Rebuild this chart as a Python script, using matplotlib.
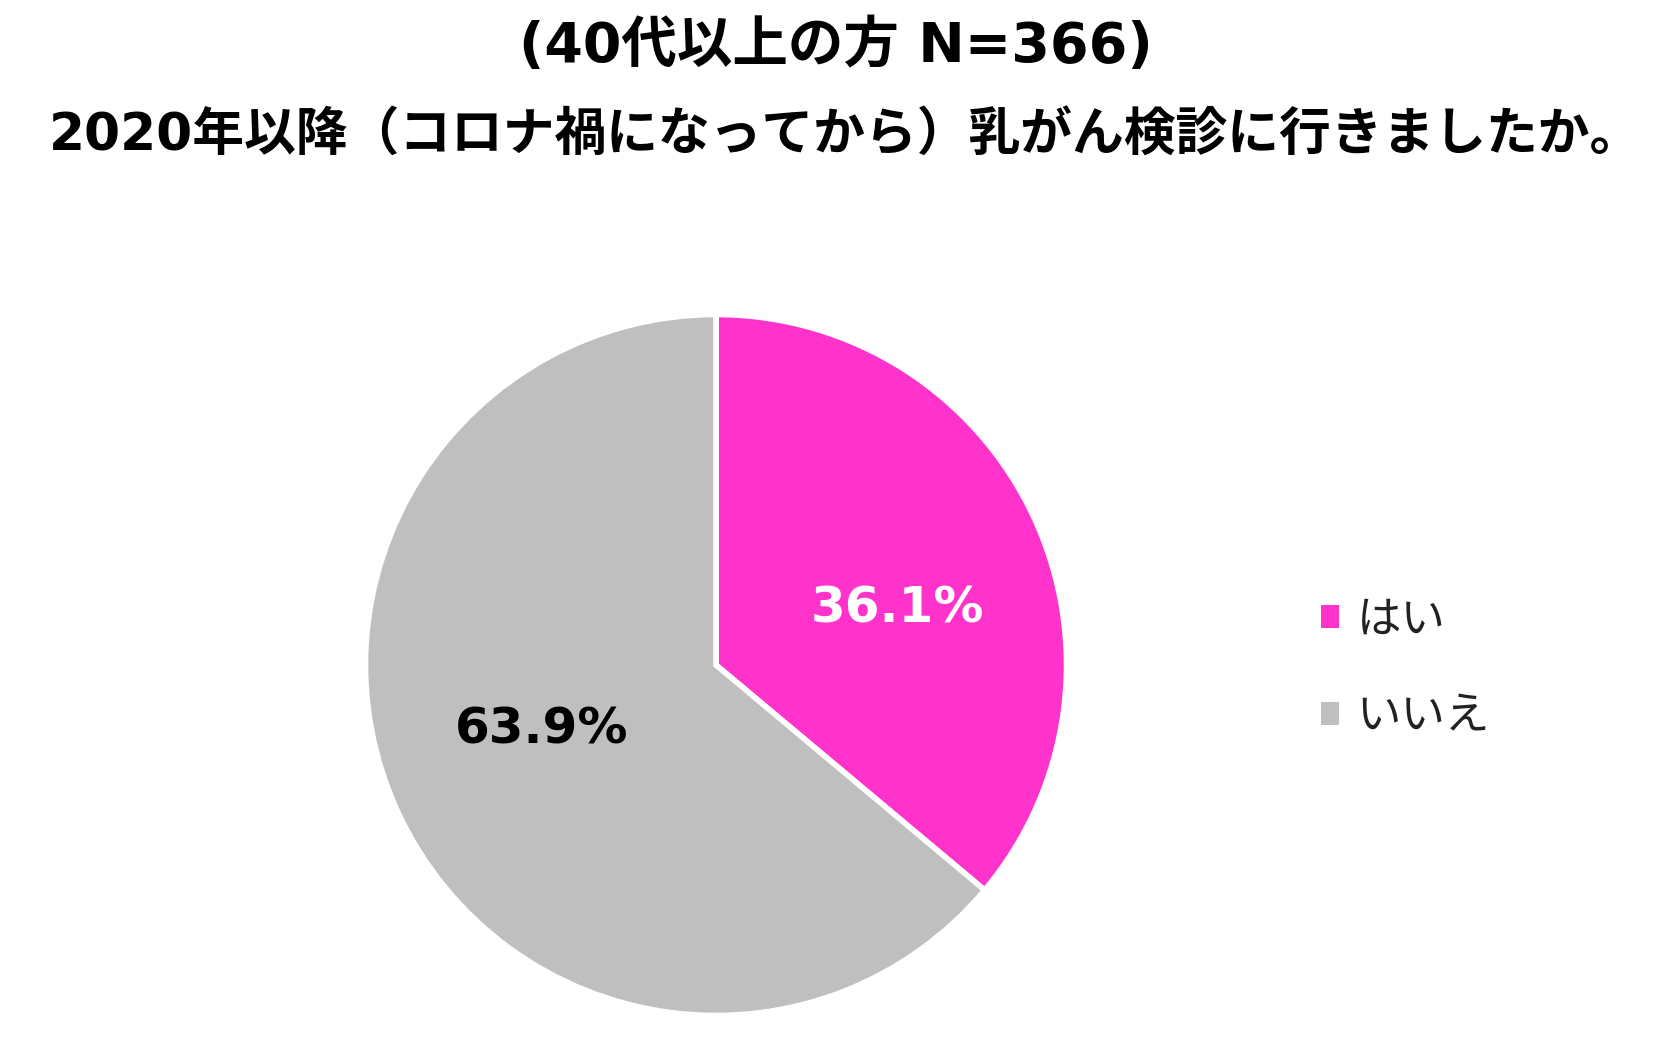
import matplotlib.pyplot as plt

plt.rcParams['font.family'] = ['Noto Sans CJK JP', 'DejaVu Sans']

# data
categories = ['はい', 'いいえ']
shares = [36.1, 63.9]
colors = ['#FF33CC', '#BFBFBF']
title_lines = ['(40代以上の方 N=366)', '2020年以降（コロナ禍になってから）乳がん検診に行きましたか。']

W, H = 1675, 1053
fig = plt.figure(figsize=(W / 100, H / 100), dpi=100)
fig.patch.set_facecolor('white')

# pie axes: centre ~ (716, 665) px, radius ~ 350 px
cx, cy, r = 716, 665, 354
ax = fig.add_axes([(cx - r) / W, (H - cy - r) / H, 2 * r / W, 2 * r / H])
wedges, texts, autotexts = ax.pie(
    shares, colors=colors, startangle=90, counterclock=False,
    autopct='%.1f%%', pctdistance=0.55, radius=1.0,
    wedgeprops=dict(edgecolor='white', linewidth=4))
ax.set_xlim(-1.01, 1.01)
ax.set_ylim(-1.01, 1.01)
ax.set_aspect('equal')
ax.axis('off')

label_colors = ['white', 'black']
for t, c in zip(autotexts, label_colors):
    t.set_color(c)
    t.set_fontsize(36)
    t.set_fontweight('bold')
    t.set_family(['DejaVu Sans'])
    x, y = t.get_position()
    t.set_position((x + 0.02 if y > 0 else x, y - 0.07 if y > 0 else y + 0.05))

# titles
title_font = ['DejaVu Sans', 'Noto Sans CJK JP']
fig.text(0.499, 1 - 47 / H, title_lines[0], ha='center', va='center',
         fontsize=40, fontweight='bold', family=title_font)
fig.text(0.505, 1 - 137 / H, title_lines[1], ha='center', va='center',
         fontsize=37.3, fontweight='bold', family=title_font)

# legend
leg = fig.legend(wedges, categories, loc='center left',
                 bbox_to_anchor=(1321 / W, 1 - 668 / H), frameon=False,
                 fontsize=32, handlelength=0.4, handleheight=0.4,
                 labelspacing=1.15, handletextpad=0.4, labelcolor='#222222',
                 borderpad=0, borderaxespad=0)
for h in leg.legend_handles:
    h.set_linewidth(0)

fig.savefig('out.png', dpi=100, facecolor='white')
